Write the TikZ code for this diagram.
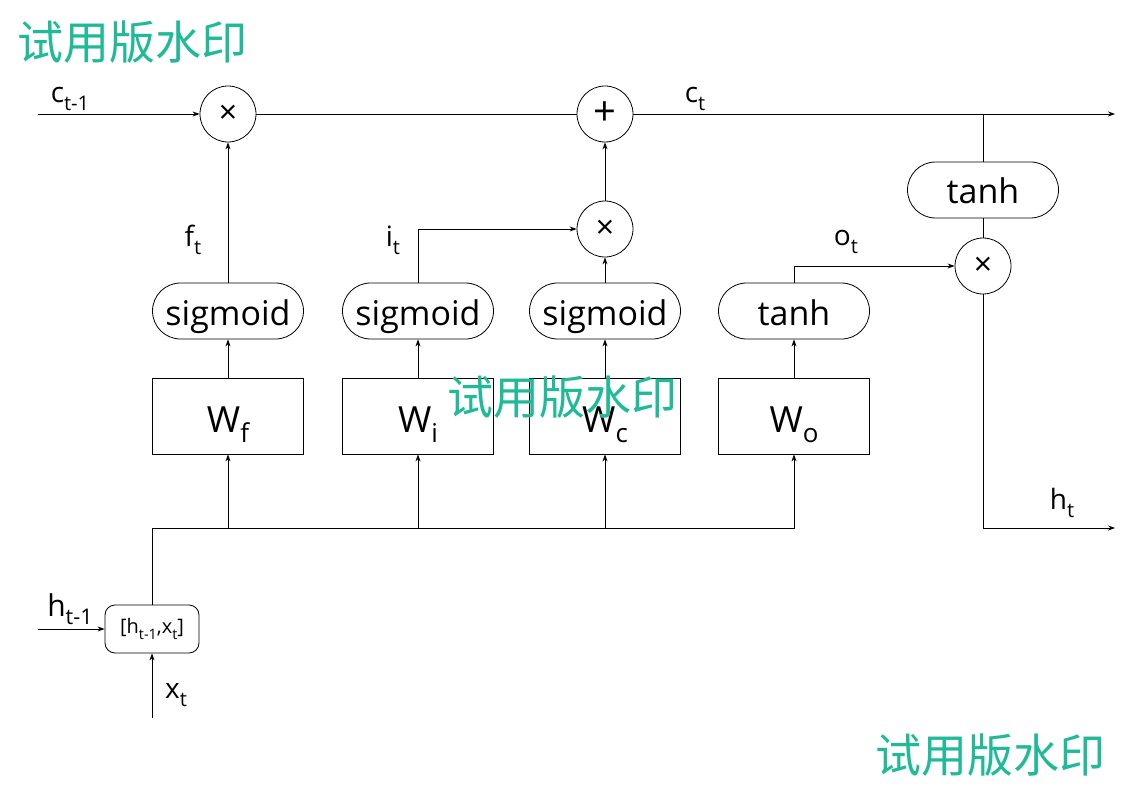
\documentclass[tikz,border=0pt]{standalone}
\usepackage{fontspec}
\usepackage{graphicx}
\setmainfont{Open Sans}
\newfontfamily\cjk{Noto Sans CJK SC}
\usetikzlibrary{positioning,arrows.meta,calc}
\definecolor{wmGreen}{HTML}{1FBA97}

% subscript that follows the current font
\newcommand{\lsub}[1]{\raisebox{-0.28em}{\scalebox{0.72}{#1}}}

\begin{document}
\begin{tikzpicture}[
  x=1pt, y=-1pt,
  op/.style={
    circle, draw, line width=0.8pt,
    minimum size=56pt, inner sep=0pt,
    font=\fontsize{32}{32}\selectfont
  },
  act/.style={
    rectangle, rounded corners=28pt,
    draw, line width=0.8pt,
    minimum width=151pt, minimum height=56pt,
    inner sep=0pt, text height=30pt, text depth=2pt,
    font=\fontsize{34}{34}\selectfont
  },
  weight/.style={
    rectangle, draw, line width=0.8pt,
    minimum width=151pt, minimum height=76pt,
    inner sep=0pt, text height=34pt, text depth=2pt,
    font=\fontsize{36}{36}\selectfont
  },
  concat/.style={
    rectangle, rounded corners=10pt,
    draw, line width=0.8pt,
    minimum width=94pt, minimum height=48pt,
    inner sep=0pt,
    font=\fontsize{20}{20}\selectfont
  },
  lbl/.style={inner sep=0pt, font=\fontsize{28}{28}\selectfont},
  wire/.style={line width=0.8pt},
  flow/.style={
    -{Stealth[length=7pt,width=5pt]},
    line width=0.8pt
  },
  watermark/.style={
    inner sep=0pt, text=wmGreen,
    font=\cjk\fontsize{46}{46}\selectfont
  }
]

% Fix the page to the reference size
\fill[white] (0,0) rectangle (1123,794);
\useasboundingbox (0,0) rectangle (1123,794);

% Cell state line
\coordinate (cIn) at (38,114);
\coordinate (cOut) at (1115,114);
\node[op] (fMul) at (228,114) {×};
\node[op, font=\fontsize{40}{40}\selectfont] (add) at (605,114) {+};

% Gate products
\node[op] (iMul) at (605,229) {×};
\node[op] (oMul) at (983,266) {×};
\node[act] (cTanh) at (983,190) {tanh};

% Activations
\node[act] (fGate) at (228,311) {sigmoid};
\node[act] (iGate) at (418,311) {sigmoid};
\node[act] (cGate) at (605,311) {sigmoid};
\node[act] (oGate) at (794,311) {tanh};

% Weights
\node[weight] (Wf) at (228,416) {W\lsub{f}};
\node[weight] (Wi) at (418,416) {W\lsub{i}};
\node[weight] (Wc) at (605,416) {W\lsub{c}};
\node[weight] (Wo) at (794,416) {W\lsub{o}};

% Input concatenation
\node[concat] (cat) at (152,629) {[h\lsub{t-1},x\lsub{t}]};
\coordinate (hIn) at (38,629);
\coordinate (xIn) at (152,718);
\coordinate (busL) at (152,528);
\coordinate (hOut) at (1115,528);

% Labels
\node[lbl] (cPrevLbl) at (70,99) {c\lsub{t-1}};
\node[lbl] (cLbl) at (695,99) {c\lsub{t}};
\node[lbl] (fLbl) at (193,240) {f\lsub{t}};
\node[lbl] (iLbl) at (393,240) {i\lsub{t}};
\node[lbl] (oLbl) at (846,242) {o\lsub{t}};
\node[lbl] (hLbl) at (1062,503) {h\lsub{t}};
\node[lbl, font=\fontsize{30}{30}\selectfont] (hPrevLbl) at (70,609) {h\lsub{t-1}};
\node[lbl] (xLbl) at (176,695) {x\lsub{t}};

% Cell state flow
\draw[flow] (cIn) -- (fMul.west);
\draw[wire] (fMul.east) -- (add.west);
\draw[flow] (add.east) -- (cOut);
\draw[wire] (cTanh.north) -- (cTanh.north |- cOut);
\draw[wire] (cTanh.south) -- (oMul.north);
\draw[flow] (oMul.south) |- (hOut);

% Gates into products
\draw[flow] (fGate.north) -- (fMul.south);
\draw[flow] (iGate.north) |- (iMul.west);
\draw[flow] (cGate.north) -- (iMul.south);
\draw[flow] (iMul.north) -- (add.south);
\draw[flow] (oGate.north) |- (oMul.west);

% Weights into activations
\draw[flow] (Wf.north) -- (fGate.south);
\draw[flow] (Wi.north) -- (iGate.south);
\draw[flow] (Wc.north) -- (cGate.south);
\draw[flow] (Wo.north) -- (oGate.south);

% Input bus
\draw[flow] (hIn) -- (cat.west);
\draw[flow] (xIn) -- (cat.south);
\draw[wire] (cat.north) -- (busL);
\draw[flow] (busL) -| (Wo.south);
\foreach \w in {Wf,Wi,Wc}
  \draw[flow] (\w.south |- busL) -- (\w.south);

% Watermarks
\node[watermark] (wmTop) at (132,42) {试用版水印};
\node[watermark] (wmMid) at (562,397) {试用版水印};
\node[watermark] (wmBot) at (990,755) {试用版水印};

\end{tikzpicture}
\end{document}
